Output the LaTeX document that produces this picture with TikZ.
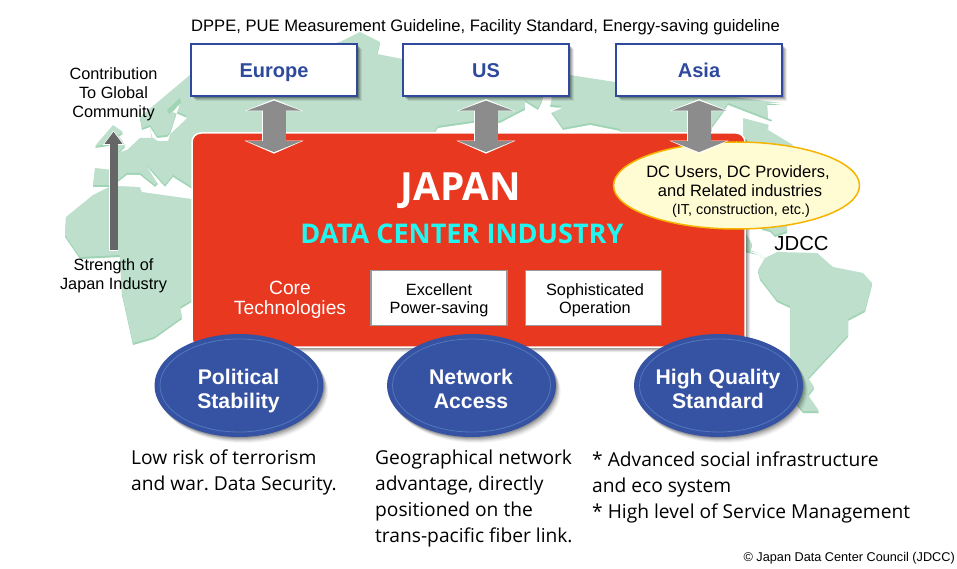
\documentclass[tikz,border=0pt]{standalone}
\usepackage{fontspec}
\setmainfont{Liberation Sans}
\newfontfamily\opensans{Open Sans}
\usetikzlibrary{arrows.meta,calc}
\definecolor{landfill}{HTML}{BDDFCC}
\definecolor{landedge}{HTML}{9FD4B4}
\definecolor{redbox}{HTML}{E8381F}
\definecolor{navy}{HTML}{2F4A9C}
\definecolor{ovalblue}{HTML}{3652A2}
\definecolor{ovalring}{HTML}{5078BC}
\definecolor{arrowgrey}{HTML}{8C8C8C}
\definecolor{creamfill}{HTML}{FFFBD2}
\definecolor{creamedge}{HTML}{F5B400}
\definecolor{cyantext}{HTML}{22F5F0}
\def\landMain{(190,75) -- (140,117) -- (142,128) -- (150,125) -- (152,138) -- (140,138) -- (127,150) -- (117,153) -- (125,145) -- (118,135) -- (123,132) -- (113,125) -- (95,146) -- (115,143) -- (117,153) -- (113,170) -- (95,168) -- (93,185) -- (113,185) -- (93,195) -- (66,217) -- (65,235) -- (80,257) -- (120,255) -- (122,293) -- (133,343) -- (154,337) -- (182,317) -- (180,307) -- (200,295) -- (400,250) -- (740,200) -- (793,145) -- (768,130) -- (768,120) -- (767,103) -- (782,103) -- (733,97) -- (615,82) -- (570,75) -- (402,59) -- (377,54) -- (380,42) -- (360,32) -- (340,42) -- cycle}
\def\landSouth{(745,232) -- (752,244) -- (750,250) -- (758,253) -- (765,258) -- (758,270) -- (760,278) -- (777,300) -- (790,306) -- (790,395) -- (803,411) -- (819,411) -- (808,395) -- (814,387) -- (808,378) -- (848,335) -- (848,319) -- (865,310) -- (872,283) -- (863,273) -- (833,267) -- (817,253) -- (777,252) -- (765,258) -- (758,253) -- (745,250) -- cycle}
\def\landMid{(762,226) -- (787,226) -- (787,231) -- (775,235) -- (770,230) -- (762,228) -- cycle}
\def\inletBaltic{(180,103) -- (173,112) -- (187,118) -- (167,137) -- (157,138) -- (150,127) -- (152,137) -- (158,141) -- (168,141) -- cycle}
\def\inletMed{(118,182) -- (127,175) -- (140,175) -- (155,187) -- (158,184) -- (148,168) -- (165,187) -- (173,177) -- (192,189) -- (192,199) -- (142,192) -- (140,187) -- (118,186) -- cycle}
\def\inletIndia{(430,140) -- (438,128) -- (473,123) -- (500,123) -- (525,110) -- (525,102) -- (538,110) -- (542,102) -- (543,96) -- (552,96) -- (550,107) -- (562,108) -- (551,113) -- (563,130) -- (590,125) -- (620,131) -- (620,140) -- cycle}
\def\inletPacific{(712,137) -- (712,128) -- (723,113) -- (728,105) -- (772,122) -- (767,130) -- (770,125) -- (743,118) -- (743,137) -- cycle}
\tikzset{
  x=1pt,y=-1pt,
  regionbox/.style={draw=navy,line width=1.3pt,fill=white,minimum width=166pt,minimum height=52pt,inner sep=0pt,text=navy,text height=14.5pt,text depth=0pt,font=\fontsize{20}{24}\selectfont\bfseries},
  corebox/.style={draw=black!40,line width=1.5pt,fill=white,minimum width=136pt,minimum height=55pt,inner sep=0pt},
  coretext/.style={inner sep=0pt,align=center,font=\fontsize{16.3}{18}\selectfont},
  ring/.style={draw=ovalring,line width=.8pt},
  pillartext/.style={text=white,align=center,font=\fontsize{21.2}{24}\selectfont\bfseries},
  note/.style={anchor=north west,inner sep=0pt,align=left,font=\opensans\fontsize{19.2}{26}\selectfont},
  label/.style={inner sep=0pt,align=center,font=\fontsize{16.3}{19}\selectfont},
  linkback/.style={draw=white,line width=24.5pt,{Triangle[length=12pt,width=59pt,color=white]}-{Triangle[length=13pt,width=59pt,color=white]}},
  linkfront/.style={draw=arrowgrey,line width=23pt,shorten <=1.5pt,shorten >=1.5pt,{Triangle[length=10pt,width=54pt,color=arrowgrey]}-{Triangle[length=11pt,width=54pt,color=arrowgrey]}},
}
\begin{document}
\frenchspacing
\begin{tikzpicture}
\useasboundingbox (0,0) rectangle (957,569);
\fill[white] (0,0) rectangle (957,569);
% map
\begin{scope}[yshift=-2pt]
\fill[landedge] \landMain; \fill[landedge] \landSouth; \fill[landedge] \landMid;
\end{scope}
\fill[landfill] \landMain; \fill[landfill] \landSouth; \fill[landfill] \landMid;
\begin{scope}[yshift=2pt]
\fill[landedge] \inletBaltic; \fill[landedge] \inletMed; \fill[landedge] \inletIndia; \fill[landedge] \inletPacific;
\end{scope}
\fill[white] \inletBaltic; \fill[white] \inletMed; \fill[white] \inletIndia; \fill[white] \inletPacific;
\fill[landedge] (167,110) -- (180,98) -- (181,103) -- (169,114) -- cycle;
% central red panel
\foreach \dd/\op in {5/.08,4/.1,3/.12,2/.15}{\fill[black,opacity=\op,rounded corners=9pt] (192+\dd,133+\dd) rectangle (745+\dd,347+\dd);}
\node[draw=white,line width=1.5pt,fill=redbox,rounded corners=9pt,minimum width=553pt,minimum height=214pt,inner sep=0pt] (core) at (468.5,240) {};
% region boxes
\foreach \xx in {274,486,699}{
  \foreach \dd/\op in {5/.08,4/.1,3/.14,2/.18}{\fill[black,opacity=\op] (\xx-83+\dd,44+\dd) rectangle (\xx+83+\dd,96+\dd);}
}
\node[regionbox] (eu) at (274,70) {Europe};
\node[regionbox] (us) at (486,70) {US};
\node[regionbox] (as) at (699,70) {Asia};
\node[inner sep=0pt,font=\fontsize{16.6}{19}\selectfont] (guide) at (485.5,27) {DPPE, PUE Measurement Guideline, Facility Standard, Energy-saving guideline};
% yellow ellipse
\draw[draw=creamedge,line width=1.5pt,fill=creamfill] (736.5,185.5) ellipse [x radius=123,y radius=43.5];
\node[label,font=\fontsize{16.5}{19}\selectfont] (users) at (738,172.5) {DC Users, DC Providers,};
\node[label,font=\fontsize{16.5}{19}\selectfont] (related) at (740,191) {and Related industries};
\node[label,font=\fontsize{14.4}{16}\selectfont] (it) at (741,211) {(IT, construction, etc.)};
% two-way links
\foreach \src in {eu,us,as}{
  \coordinate (a\src) at ([yshift=-2.5pt]\src.south);
  \coordinate (b\src) at ([yshift=-57pt]\src.south);
  \draw[linkback] (a\src) -- (b\src);
  \draw[linkfront] (a\src) -- (b\src);
}
% core text
\node[inner sep=0pt,text=white,font=\opensans\bfseries\fontsize{38.8}{42}\selectfont] (japan) at (461,191) {JAPAN};
\node[inner sep=0pt,text=cyantext,font=\opensans\bfseries\fontsize{27.1}{30}\selectfont] (industry) at (462,234) {DATA CENTER INDUSTRY};
\node[inner sep=0pt,text=white,align=center,font=\fontsize{19.2}{19.5}\selectfont] (tech) at (290,300) {Core\\Technologies};
\node[corebox] (power) at (439,298) {};
\node[corebox] (oper) at (593.5,298) {};
\node[coretext] (powertext) at (439,300) {Excellent\\Power-saving};
\node[coretext] (opertext) at (595,300) {Sophisticated\\Operation};
% left arrow
\node[label] (contrib) at (113.5,94) {Contribution\\To Global\\Community};
\node[label] (strength) at (113.5,276) {Strength of\\Japan Industry};
\draw[draw=white,line width=9.5pt,shorten >=10pt,shorten <=8pt,-{Triangle[length=14pt,width=20pt,color=white]}] (strength.north) -- (contrib.south);
\draw[draw=black!60,line width=8pt,shorten >=11pt,shorten <=9pt,-{Triangle[length=12pt,width=17pt,color=black!60]}] (strength.north) -- (contrib.south);
\node[inner sep=0pt,font=\fontsize{20.3}{22}\selectfont] (jdcc) at (801.5,244) {JDCC};
% pillars
\foreach \nm/\xx/\yy/\txt in {pol/239/391/{Political\\Stability},net/471.5/389/{Network\\Access},qual/718.5/389/{High Quality\\Standard}}{
  \foreach \dd/\op in {6/.04,5/.05,4/.07,3/.09,2/.11,1/.13}{
    \fill[black,opacity=\op] (\xx+\dd*.8,385.5+\dd) ellipse [x radius=84.5,y radius=51.5];
  }
  \fill[ovalblue] (\xx,385.5) ellipse [x radius=84.5,y radius=51.5];
  \draw[ring] (\xx,385.5) ellipse [x radius=79,y radius=46.5];
  \node[pillartext] (\nm) at (\xx-.5,\yy) {\txt};
}
% notes
\node[note] (n1) at (131,450) {Low risk of terrorism\\and war. Data Security.};
\node[note] (n2) at (375,450) {Geographical network\\advantage, directly\\positioned on the\\trans-pacific fiber link.};
\node[note] (n3) at (592,452) {* Advanced social infrastructure\\and eco system\\* High level of Service Management};
\node[anchor=east,inner sep=0pt,font=\fontsize{12.7}{15}\selectfont] (copy) at (955,558) {© Japan Data Center Council (JDCC)};
\end{tikzpicture}
\end{document}
